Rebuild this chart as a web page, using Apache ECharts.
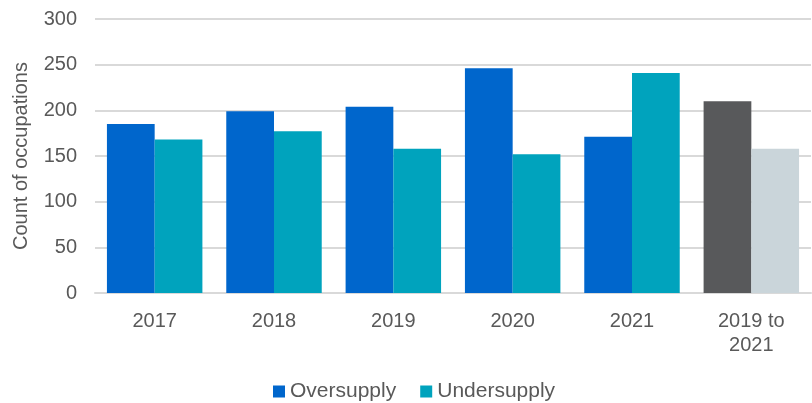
<!DOCTYPE html>
<html style="height: 100%">
<head>
    <meta charset="utf-8">
    <title>Occupations</title>
    <script src="https://cdn.jsdelivr.net/npm/echarts@6/dist/echarts.min.js"></script>
</head>
<body style="height: 100%; margin: 0">
<div id="main" style="width: 812px; height: 403px"></div>

<script type="text/javascript">
    var categories = ['2017', '2018', '2019', '2020', '2021', '2019 to\n2021'];
    var oversupply = [185, 199, 204, 246, 171, 210];
    var undersupply = [168, 177, 158, 152, 241, 158];
    var yTicks = [0, 50, 100, 150, 200, 250, 300];

    var overColor = '#0066cc';
    var underColor = '#00a3bd';

    // last group (2019 to 2021) is drawn in greys
    function toItems(values, lastColor) {
        return values.map(function (v, i) {
            if (i === values.length - 1) {
                return {value: v, itemStyle: {color: lastColor}};
            }
            return v;
        });
    }

    var myChart = echarts.init(document.getElementById('main'));

    var option = {
        animation: false,
        textStyle: {fontFamily: 'Liberation Sans, Arial, sans-serif'},
        grid: {left: 95, right: 1, top: 19, bottom: 110},
        legend: {
            bottom: -4,
            left: 268,
            itemWidth: 12,
            itemHeight: 12,
            itemGap: 24,
            itemTextGap: 4,
            icon: 'rect',
            textStyle: {fontSize: 21, color: '#595959'},
            data: ['Oversupply', 'Undersupply']
        },
        xAxis: {
            type: 'category',
            data: categories,
            axisTick: {show: false},
            axisLine: {lineStyle: {color: '#d9d9d9', width: 2}},
            axisLabel: {fontSize: 20, color: '#595959', margin: 16, lineHeight: 24}
        },
        yAxis: {
            type: 'value',
            min: yTicks[0],
            max: yTicks[yTicks.length - 1],
            interval: 50,
            name: 'Count of occupations',
            nameLocation: 'middle',
            nameGap: 64,
            nameTextStyle: {fontSize: 20, color: '#595959'},
            axisLabel: {fontSize: 20, color: '#595959', margin: 18},
            splitLine: {lineStyle: {color: '#d9d9d9', width: 2}}
        },
        series: [
            {
                name: 'Oversupply',
                type: 'bar',
                barGap: '0%',
                barCategoryGap: '20%',
                itemStyle: {color: overColor},
                data: toItems(oversupply, '#58595b')
            },
            {
                name: 'Undersupply',
                type: 'bar',
                barGap: '0%',
                barCategoryGap: '20%',
                itemStyle: {color: underColor},
                data: toItems(undersupply, '#cad5da')
            }
        ]
    };
    myChart.setOption(option, true);
</script>
</body>
</html>
